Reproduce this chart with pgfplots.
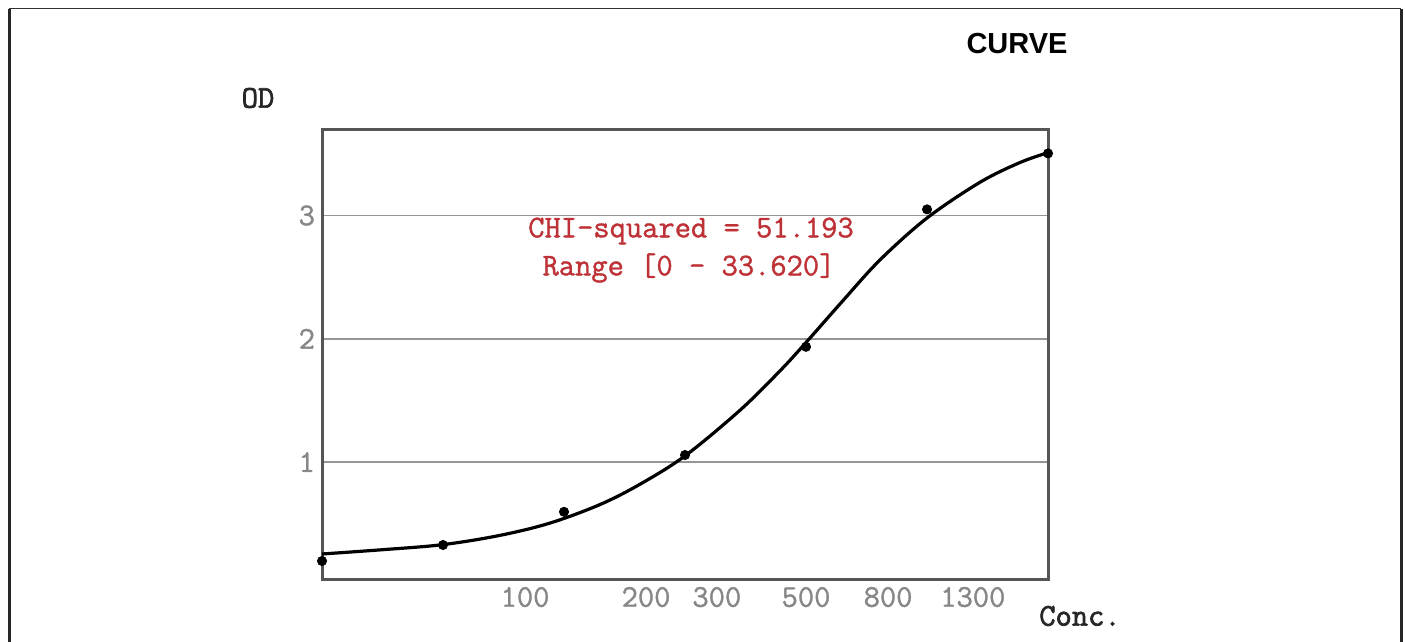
\documentclass[border=0pt]{standalone}
\usepackage{pgfplots}
\pgfplotsset{compat=1.18}
\usepackage{fontspec}
\setmainfont{Liberation Sans}
\newfontfamily\mono[FakeBold=1.2]{Latin Modern Mono}
\newfontfamily\monob[FakeBold=2.2]{Latin Modern Mono}
\definecolor{tickgray}{RGB}{135,135,135}
\definecolor{gridgray}{RGB}{150,150,150}
\definecolor{axisgray}{RGB}{85,85,85}
\definecolor{chired}{RGB}{190,50,55}
\begin{document}
\begin{tikzpicture}
\begin{scope}[x=0.5pt,y=0.5pt]
\path[use as bounding box] (0,0) rectangle (1405,642);
\draw[line width=1.5pt, color=black!85] (9,0) -- (9,633);
\draw[line width=0.5pt, color=black!80] (9,633) -- (1401,633);
\draw[line width=1.5pt, color=black!85] (1401,633) -- (1401,0);
\node[font=\bfseries\fontsize{14.5}{17}\selectfont] at (1017,598) {CURVE};
\node[font=\monob\fontsize{15.8}{18}\selectfont, text=black!85] at (258,544) {OD};
\node[font=\monob\fontsize{15.8}{18}\selectfont, text=black!85] at (1080,26) {Conc.};
\end{scope}
\begin{axis}[
  at={(161pt,31pt)}, anchor=south west,
  scale only axis, width=363pt, height=225pt,
  xmode=log, xmin=31.25, xmax=2000,
  ymin=0.043, ymax=3.694,
  xtick={100,200,300,500,800,1300},
  xticklabels={100,200,300,500,800,1300},
  ytick={1,2,3}, yticklabels={1,2,3},
  major tick length=0pt, minor tick length=0pt,
  tick style={draw=none},
  ymajorgrids,
  major grid style={gridgray, line width=0.9pt},
  axis line style={axisgray, line width=1.5pt},
  ticklabel style={font=\mono\fontsize{15.8}{18}\selectfont, text=tickgray},
  clip=false,
]
\addplot[black, line width=1.6pt, smooth, tension=0.55] coordinates {
  (31.25,0.254) (44.3,0.289) (62.5,0.330) (86.6,0.405) (115.4,0.505)
  (153.6,0.655) (193.2,0.82) (250,1.05) (342.5,1.42) (430.8,1.74)
  (500,1.97) (618,2.31) (764,2.64) (1000,2.98) (1355,3.27)
  (1703,3.43) (2000,3.51)
};
\addplot[only marks, mark=*, mark size=2.3pt, black] coordinates {
  (31.25,0.197) (62.5,0.327) (125,0.596) (250,1.057) (500,1.935)
  (1000,3.05) (2000,3.504)
};
\end{axis}
\begin{scope}[x=0.5pt,y=0.5pt]
\node[font=\mono\fontsize{15.8}{18}\selectfont, text=chired] at (691,411) {CHI-squared = 51.193};
\node[font=\mono\fontsize{15.8}{18}\selectfont, text=chired] at (689,374) {Range [0 - 33.620]};
\end{scope}
\end{tikzpicture}
\end{document}
